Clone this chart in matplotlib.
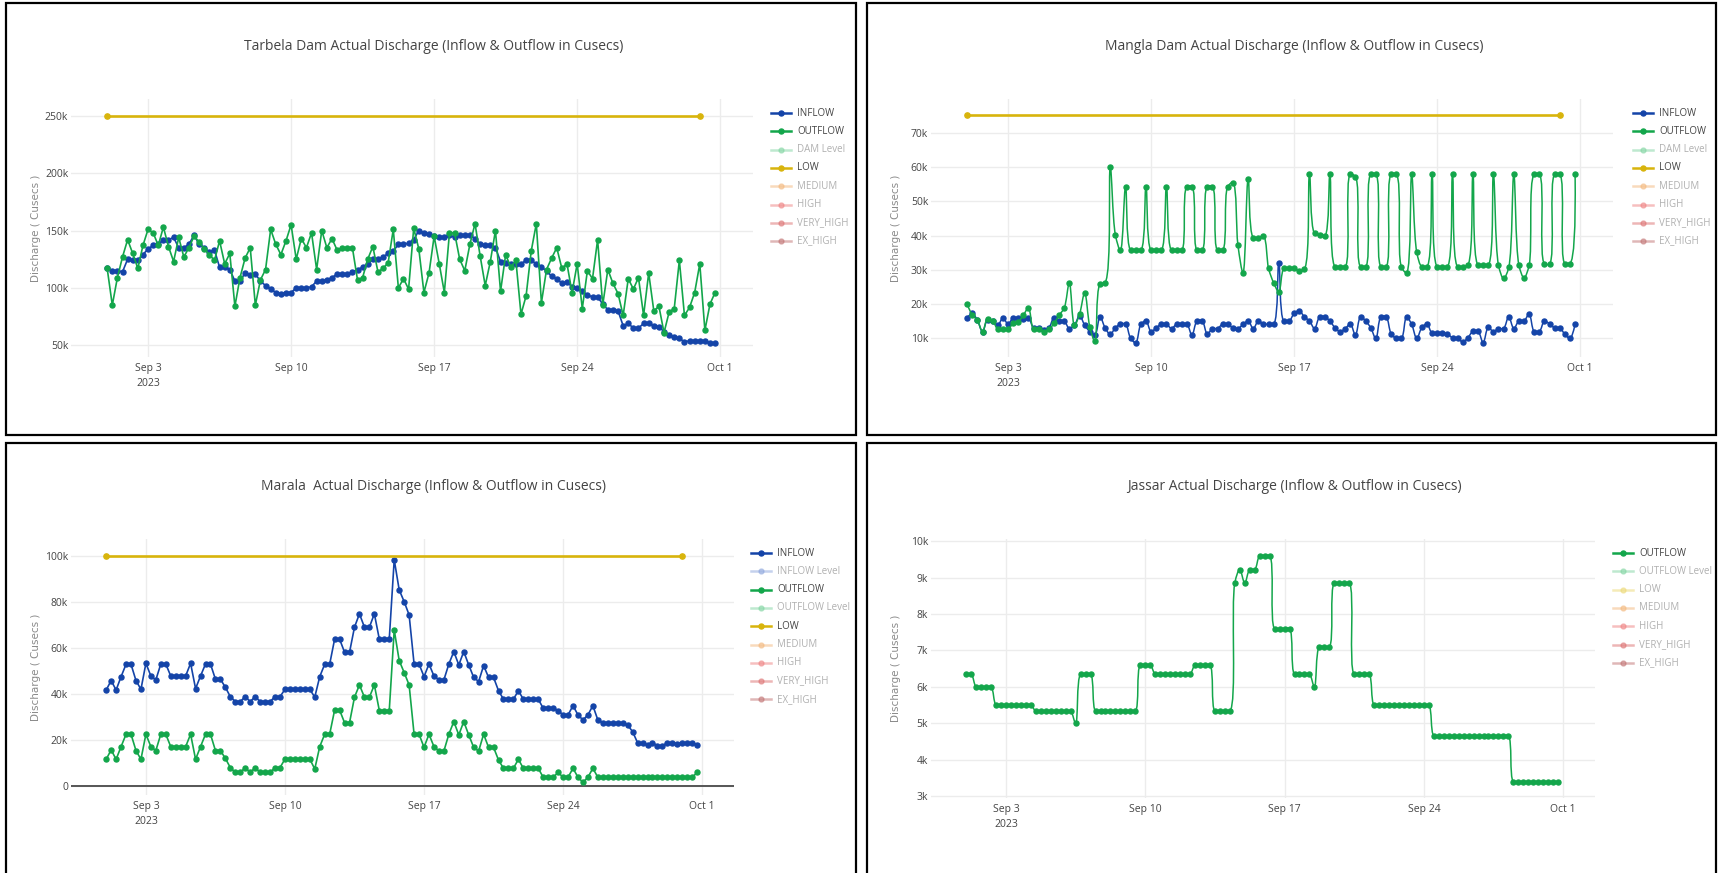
import numpy as np
import pandas as pd
import matplotlib
matplotlib.use('Agg')
import matplotlib.pyplot as plt
import matplotlib.dates as mdates
from matplotlib.lines import Line2D
from matplotlib.patches import Rectangle, PathPatch
from matplotlib.path import Path

plt.rcParams['font.family'] = ['Open Sans', 'DejaVu Sans']

W, H = 1722, 873

blue = '#1444a8'
green = '#13a64b'
gold = '#d8b40c'
grid = '#ececec'
text_col = '#444444'

# 6-hourly readings, Sep 1 00:00 .. Sep 30 18:00 (values in thousand cusecs)
times = pd.date_range('2023-09-01', periods=120, freq='6h')
low_dates = pd.to_datetime(['2023-09-01', '2023-09-30'])
tick_dates = pd.to_datetime(['2023-09-03', '2023-09-10', '2023-09-17', '2023-09-24', '2023-10-01'])
tick_labels = ['Sep 3\n2023', 'Sep 10', 'Sep 17', 'Sep 24', 'Oct 1']

tarbela_inflow = [117.6, 115, 115, 114, 125, 124, 124, 129, 134, 137,
                  138, 142, 142, 144, 135, 135, 138, 146, 138, 135,
                  131, 133, 118, 118, 116, 106, 106, 113, 111, 112,
                  106, 102, 99, 96, 95, 96, 96, 100, 100, 100,
                  101, 106, 106, 107, 109, 112, 112, 112, 114, 116,
                  118, 121, 125, 125, 127, 130, 132, 138, 138, 139,
                  142, 150, 148, 147, 145, 144, 144, 146, 144, 146,
                  146, 146, 143, 138, 137, 137, 135, 123, 122, 121,
                  121, 121, 124, 124, 121, 118, 115, 110, 108, 104,
                  105, 101, 100, 97, 94, 92, 92, 86, 81, 81,
                  80, 67, 69, 65, 65, 69, 69, 67, 66, 62,
                  59, 57, 56, 53, 54, 54, 54, 54, 52, 52]
tarbela_outflow = [117, 85, 109, 127, 142, 130, 117, 137, 151, 148,
                   137, 153, 136, 123, 144, 127, 135, 145, 140, 134,
                   129, 124, 141, 121, 130, 84, 109, 126, 135, 85,
                   107, 116, 151, 138, 129, 141, 155, 125, 143, 135,
                   148, 116, 150, 135, 143, 133, 135, 135, 135, 107,
                   109, 125, 136, 114, 117, 122, 151, 100, 108, 99,
                   152, 134, 96, 113, 145, 121, 96, 148, 148, 125,
                   115, 138, 156, 128, 102, 123, 150, 97, 129, 118,
                   124, 77, 93, 132, 156, 87, 116, 126, 135, 117,
                   121, 96, 121, 82, 115, 108, 142, 85, 116, 104,
                   95, 76, 108, 99, 109, 76, 113, 80, 84, 61,
                   79, 82, 124, 76, 83, 96, 121, 63, 86, 96]
tarbela_low = [250, 250]

mangla_inflow = [16.0, 17.3, 15.3, 12.0, 15.5, 15.0, 13.9, 16.0, 14.2, 16.0,
                 16.0, 15.8, 16.0, 13.1, 13.1, 12.4, 13.1, 16.0, 15.0, 15.0,
                 12.9, 13.9, 16.6, 13.9, 12.0, 11.0, 16.3, 13.1, 11.2, 13.1,
                 14.2, 14.2, 10.0, 8.8, 14.1, 15.1, 12.0, 13.1, 14.2, 14.2,
                 12.9, 14.2, 14.2, 14.2, 11.0, 15.1, 15.1, 11.3, 12.9, 12.9,
                 14.2, 14.2, 13.1, 12.9, 14.1, 15.1, 12.9, 15.1, 14.2, 14.2,
                 14.2, 32.1, 15.0, 15.0, 17.3, 18.1, 16.3, 15.1, 12.9, 16.3,
                 16.3, 15.1, 13.1, 12.0, 12.9, 14.2, 11.0, 16.3, 15.1, 13.1,
                 10.0, 16.3, 16.3, 11.3, 10.0, 10.0, 16.3, 14.1, 10.0, 13.2,
                 14.2, 11.5, 11.5, 11.5, 11.3, 10.2, 10.0, 9.0, 10.2, 12.1,
                 12.1, 8.8, 13.2, 12.0, 12.9, 12.9, 16.3, 12.9, 15.1, 15.1,
                 17.1, 12.0, 12.0, 15.1, 14.2, 13.1, 13.1, 11.2, 10.0, 14.2]
mangla_outflow = [20.0, 16.8, 15.3, 12.0, 15.8, 15.1, 12.7, 12.7, 12.7, 14.4,
                  14.9, 16.8, 18.9, 12.7, 12.7, 12.0, 12.7, 14.4, 16.8, 18.9,
                  26.2, 13.9, 17.1, 23.3, 13.4, 9.2, 25.8, 26.3, 60.0, 40.3,
                  35.7, 54.2, 35.7, 35.7, 35.7, 54.2, 35.7, 35.7, 35.7, 54.2,
                  35.7, 35.7, 35.7, 54.2, 54.2, 35.7, 35.7, 54.2, 54.2, 35.7,
                  35.7, 54.2, 55.4, 37.2, 29.2, 56.6, 39.4, 39.4, 39.8, 30.4,
                  26.2, 23.6, 30.4, 30.4, 30.4, 29.7, 30.2, 57.8, 40.6, 40.1,
                  39.8, 57.8, 30.9, 30.9, 30.9, 57.8, 57.1, 30.9, 30.9, 57.8,
                  57.8, 30.9, 30.9, 57.8, 57.8, 30.9, 29.2, 57.8, 35.2, 30.9,
                  30.9, 57.8, 30.9, 30.9, 30.9, 57.8, 30.9, 30.9, 31.4, 57.8,
                  31.4, 31.4, 31.4, 57.8, 31.4, 27.5, 30.7, 57.8, 31.4, 27.7,
                  31.4, 57.8, 57.8, 31.8, 31.8, 57.8, 57.8, 31.8, 31.8, 57.8]
mangla_low = [75, 75]

marala_inflow = [41.7, 45.8, 41.7, 47.5, 52.9, 52.9, 45.8, 42.0, 53.3, 47.8,
                 46.1, 53.0, 53.0, 47.8, 47.8, 47.8, 47.8, 53.3, 42.3, 47.8,
                 53.0, 53.0, 46.4, 46.4, 42.9, 38.8, 36.7, 36.7, 38.8, 36.7,
                 38.8, 36.7, 36.7, 36.7, 38.8, 38.8, 42.0, 42.0, 42.0, 42.0,
                 42.0, 42.0, 38.6, 47.5, 52.9, 52.9, 63.8, 63.8, 58.1, 58.1,
                 69.0, 74.8, 69.0, 69.0, 74.8, 63.8, 63.8, 63.8, 98.3, 85.2,
                 80.1, 74.3, 53.0, 53.0, 47.5, 53.0, 47.8, 46.1, 46.1, 53.0,
                 58.4, 52.6, 58.4, 52.6, 47.2, 45.4, 52.3, 47.2, 47.2, 41.4,
                 37.7, 37.7, 37.7, 41.4, 37.7, 37.7, 37.7, 37.7, 33.8, 33.8,
                 33.8, 32.8, 30.9, 30.9, 34.9, 30.9, 28.7, 30.9, 34.9, 28.7,
                 27.5, 27.5, 27.5, 27.5, 27.2, 26.5, 23.6, 18.8, 18.6, 17.8,
                 18.8, 17.5, 17.5, 18.8, 18.8, 18.3, 18.8, 18.8, 18.8, 17.8]
marala_outflow = [11.6, 15.7, 11.6, 17.1, 22.5, 22.5, 15.4, 11.6, 22.5, 17.1,
                  15.4, 22.5, 22.5, 17.1, 17.1, 17.1, 17.1, 22.5, 11.6, 17.1,
                  22.5, 22.5, 15.4, 15.4, 12.0, 8.0, 5.9, 5.9, 8.0, 5.9,
                  8.0, 5.9, 5.9, 5.9, 8.0, 8.0, 11.7, 11.7, 11.7, 11.7,
                  11.7, 11.7, 7.4, 17.1, 22.5, 22.5, 33.0, 33.0, 27.5, 27.5,
                  38.6, 43.9, 38.6, 38.6, 43.9, 32.8, 32.8, 32.8, 67.8, 54.5,
                  49.3, 43.9, 22.5, 22.5, 16.8, 22.5, 17.1, 15.2, 15.2, 22.5,
                  28.0, 22.2, 28.0, 22.2, 16.8, 15.2, 22.5, 16.8, 16.8, 11.3,
                  7.7, 7.7, 7.7, 11.6, 7.7, 7.7, 7.7, 7.7, 3.8, 3.8,
                  3.8, 5.9, 3.8, 3.8, 7.7, 3.8, 1.6, 3.8, 7.7, 3.8,
                  3.8, 3.8, 3.8, 3.8, 3.8, 3.8, 3.8, 3.8, 3.8, 3.8,
                  3.8, 3.8, 3.8, 3.8, 3.8, 3.8, 3.8, 3.8, 3.8, 5.9]
marala_low = [100, 100]

jassar_outflow = [6.35, 6.35, 6.0, 6.0, 6.0, 6.0, 5.5, 5.5, 5.5, 5.5,
                  5.5, 5.5, 5.5, 5.5, 5.33, 5.33, 5.33, 5.33, 5.33, 5.33,
                  5.33, 5.33, 5.0, 6.35, 6.35, 6.35, 5.33, 5.33, 5.33, 5.33,
                  5.33, 5.33, 5.33, 5.33, 5.33, 6.6, 6.6, 6.6, 6.35, 6.35,
                  6.35, 6.35, 6.35, 6.35, 6.35, 6.35, 6.6, 6.6, 6.6, 6.6,
                  5.33, 5.33, 5.33, 5.33, 8.85, 9.22, 8.85, 9.22, 9.22, 9.6,
                  9.6, 9.6, 7.6, 7.6, 7.6, 7.6, 6.35, 6.35, 6.35, 6.35,
                  6.0, 7.1, 7.1, 7.1, 8.85, 8.85, 8.85, 8.85, 6.35, 6.35,
                  6.35, 6.35, 5.5, 5.5, 5.5, 5.5, 5.5, 5.5, 5.5, 5.5,
                  5.5, 5.5, 5.5, 5.5, 4.66, 4.66, 4.66, 4.66, 4.66, 4.66,
                  4.66, 4.66, 4.66, 4.66, 4.66, 4.66, 4.66, 4.66, 4.66, 4.66,
                  3.4, 3.4, 3.4, 3.4, 3.4, 3.4, 3.4, 3.4, 3.4, 3.4]

legend_dam = [('INFLOW', blue, True), ('OUTFLOW', green, True), ('DAM Level', '#7fd4a0', False),
              ('LOW', gold, True), ('MEDIUM', '#f3b77a', False), ('HIGH', '#ef8080', False),
              ('VERY_HIGH', '#dc6f6f', False), ('EX_HIGH', '#c07070', False)]
legend_marala = [('INFLOW', blue, True), ('INFLOW Level', '#8aa4dc', False), ('OUTFLOW', green, True),
                 ('OUTFLOW Level', '#7fd4a0', False), ('LOW', gold, True), ('MEDIUM', '#f3b77a', False),
                 ('HIGH', '#ef8080', False), ('VERY_HIGH', '#dc6f6f', False), ('EX_HIGH', '#c07070', False)]
legend_jassar = [('OUTFLOW', green, True), ('OUTFLOW Level', '#7fd4a0', False), ('LOW', '#ecd873', False),
                 ('MEDIUM', '#f3b77a', False), ('HIGH', '#ef8080', False), ('VERY_HIGH', '#dc6f6f', False),
                 ('EX_HIGH', '#c07070', False)]

xlim = (pd.Timestamp('2023-08-30 05:30'), pd.Timestamp('2023-10-02 14:30'))

fig = plt.figure(figsize=(W / 100, H / 100), dpi=100, facecolor='white')


def fx(x):
    return x / W


def fy(y):
    return 1 - y / H


def spline_path(ax, xs, ys, smoothness=1.0):
    # same curve shape plotly draws for line_shape='spline', worked out in pixel space
    pts = ax.transData.transform(np.column_stack([xs, ys]))
    n = len(pts)
    tan = []
    for i in range(1, n - 1):
        c = pts[i]
        d1 = pts[i - 1] - c
        d2 = pts[i + 1] - c
        d1a = np.hypot(*d1) ** 0.5
        d2a = np.hypot(*d2) ** 0.5
        num = (d2a * d2a * d1 - d1a * d1a * d2) * smoothness
        den1 = 3 * d2a * (d1a + d2a)
        den2 = 3 * d1a * (d1a + d2a)
        tan.append((c + (num / den1 if den1 else 0), c - (num / den2 if den2 else 0)))
    verts = [pts[0], tan[0][0], pts[1]]
    codes = [Path.MOVETO, Path.CURVE3, Path.CURVE3]
    for i in range(2, n - 1):
        verts += [tan[i - 2][1], tan[i - 1][0], pts[i]]
        codes += [Path.CURVE4] * 3
    verts += [tan[n - 3][1], pts[n - 1]]
    codes += [Path.CURVE3] * 2
    return Path(ax.transData.inverted().transform(np.array(verts)), codes)


def panel(box, axbox, title, title_y, series, low, ylim, yticks, legend, leg_x, leg_y,
          zero=False, smooth=False):
    # panel frame
    x0, y0, x1, y1 = box
    fig.add_artist(Rectangle((fx(x0), fy(y1)), fx(x1 - x0), (y1 - y0) / H, transform=fig.transFigure,
                             fill=False, edgecolor='black', lw=1.6))
    fig.text(fx((x0 + x1) / 2 + 3), fy(title_y), title, ha='center', va='center', fontsize=10, color=text_col)

    l, t, r, b = axbox
    ax = fig.add_axes([fx(l), fy(b), fx(r - l), (b - t) / H])
    ax.set_xlim(xlim)
    ax.set_ylim(ylim)
    xn = mdates.date2num(times)
    for ys, col in series:
        if smooth:
            ax.add_patch(PathPatch(spline_path(ax, xn, ys), fill=False, edgecolor=col, lw=1.1, zorder=3))
            ax.plot(times, ys, ls='none', color=col, marker='o', ms=3.6, zorder=3)
        else:
            ax.plot(times, ys, color=col, lw=1.2, marker='o', ms=3.6, zorder=3)
    if low is not None:
        ax.plot(low_dates, low, color=gold, lw=1.9, marker='o', ms=3.8, zorder=4)
    ax.set_xlim(xlim)
    ax.set_ylim(ylim)
    ax.set_xticks(tick_dates)
    ax.set_xticklabels(tick_labels, linespacing=1.5)
    ax.set_yticks(yticks)
    ax.set_yticklabels(['0' if v == 0 else f'{v:g}k' for v in yticks])
    ax.tick_params(length=0, labelsize=7.5, labelcolor=text_col, pad=2)
    ax.tick_params(axis='x', pad=4)
    ax.grid(True, color=grid, lw=1)
    ax.set_axisbelow(True)
    for s in ax.spines.values():
        s.set_visible(False)
    if zero:
        ax.axhline(0, color='#555555', lw=1.4, zorder=2)
    fig.text(fx(l - 35), fy((t + b) / 2), 'Discharge ( Cusecs )', rotation=90, ha='center', va='center',
             fontsize=7.5, color='#8a8a8a', family=['DejaVu Sans'])

    # legend drawn by hand, plotly style
    for k, (name, col, on) in enumerate(legend):
        yy = fy(leg_y + k * 18.3)
        a = 1 if on else 0.5
        fig.add_artist(Line2D([fx(leg_x), fx(leg_x + 20)], [yy, yy], transform=fig.transFigure,
                              color=col, lw=1.8, alpha=a))
        fig.add_artist(Line2D([fx(leg_x + 10)], [yy], transform=fig.transFigure, color=col,
                              marker='o', ms=3.6, alpha=a))
        fig.text(fx(leg_x + 26), yy, name, ha='left', va='center', fontsize=7,
                 color=text_col if on else '#b0b0b0')
    return ax


panel((6, 3, 856, 435), (71, 99, 753, 357), 'Tarbela Dam Actual Discharge (Inflow & Outflow in Cusecs)', 47,
      [(tarbela_inflow, blue), (tarbela_outflow, green)], tarbela_low, (39.8, 264.6),
      [50, 100, 150, 200, 250], legend_dam, 771, 113)

panel((867, 3, 1716, 435), (931, 99, 1613, 357), 'Mangla Dam Actual Discharge (Inflow & Outflow in Cusecs)', 47,
      [(mangla_inflow, blue), (mangla_outflow, green)], mangla_low, (4.6, 79.8),
      [10, 20, 30, 40, 50, 60, 70], legend_dam, 1633, 113, smooth=True)

panel((6, 443, 856, 880), (71, 539, 734, 795), 'Marala  Actual Discharge (Inflow & Outflow in Cusecs)', 487,
      [(marala_inflow, blue), (marala_outflow, green)], marala_low, (-3.9, 107.3),
      [0, 20, 40, 60, 80, 100], legend_marala, 751, 553, zero=True)

panel((867, 443, 1716, 880), (931, 539, 1595, 798), 'Jassar Actual Discharge (Inflow & Outflow in Cusecs)', 487,
      [(jassar_outflow, green)], None, (2.95, 10.06),
      [3, 4, 5, 6, 7, 8, 9, 10], legend_jassar, 1613, 553, smooth=True)

fig.savefig('out.png', dpi=100, facecolor='white')
